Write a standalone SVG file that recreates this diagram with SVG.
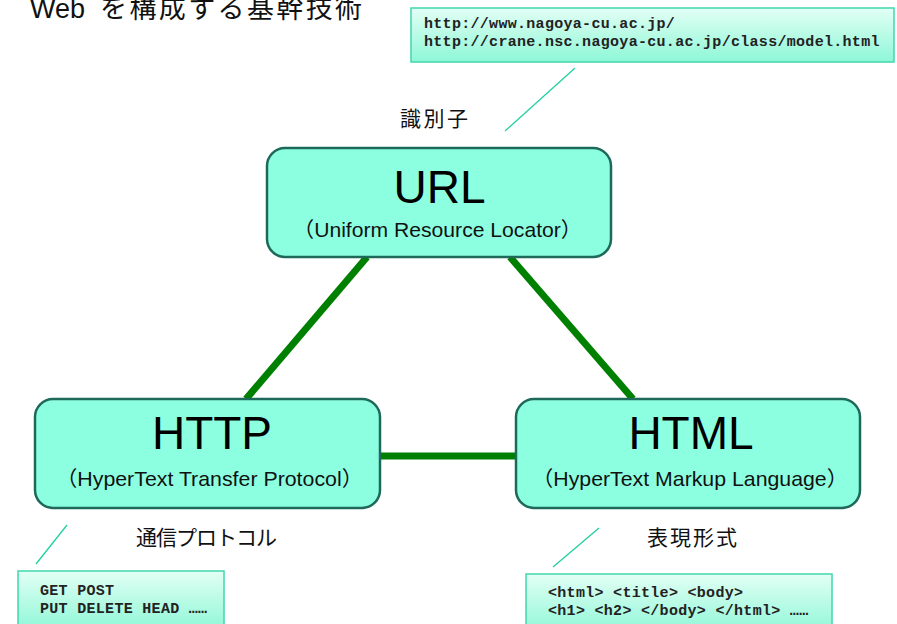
<svg xmlns="http://www.w3.org/2000/svg" width="897" height="624" viewBox="0 0 897 624">
<defs>
<linearGradient id="cg" x1="0" y1="0" x2="0" y2="1">
<stop offset="0" stop-color="#e2fff5"/>
<stop offset="1" stop-color="#8ef7d6"/>
</linearGradient>
<style>
.node{fill:#8cffe0;stroke:#1e6a5a;stroke-width:2.5}
.main{font-family:"Liberation Sans",Arial,sans-serif;font-size:46px;fill:#000;text-anchor:middle}
.sub{font-family:"Liberation Sans","Noto Sans CJK JP",sans-serif;font-size:21px;fill:#111}
.conn{stroke:#008000;stroke-width:7;fill:none}
.call{fill:url(#cg);stroke:#40d8ac;stroke-width:1.5}
.lead{stroke:#20d0a0;stroke-width:1.3;fill:none}
.mono{font-family:"Liberation Mono","Courier New",monospace;font-weight:bold;font-size:15px;fill:#222;letter-spacing:0.3px}
.lab{font-family:"Noto Sans CJK JP",sans-serif;font-size:21px;fill:#111}
</style>
</defs>
<rect width="897" height="624" fill="#fff"/>
<text y="18" font-family="'Liberation Sans','Noto Sans CJK JP',sans-serif" font-size="27" fill="#111"><tspan x="30">Web</tspan><tspan x="100" textLength="262" lengthAdjust="spacing" font-family="'Noto Sans CJK JP',sans-serif">を構成する基幹技術</tspan></text>

<g id="connectors">
<line class="conn" x1="367" y1="257" x2="246" y2="399"/>
<line class="conn" x1="510" y1="257" x2="633" y2="399"/>
<line class="conn" x1="380" y1="456" x2="516" y2="456"/>
<line class="lead" x1="575" y1="68" x2="505" y2="131"/>
<line class="lead" x1="67" y1="525" x2="36" y2="564"/>
<line class="lead" x1="599" y1="528" x2="553" y2="567"/>
</g>

<g id="url">
<rect class="node" x="267" y="148" width="344" height="109" rx="18"/>
<text class="main" x="439.5" y="203">URL</text>
<text class="sub" x="293" y="237" textLength="289" lengthAdjust="spacingAndGlyphs">（Uniform Resource Locator）</text>
</g>

<g id="http">
<rect class="node" x="35" y="399" width="345" height="109" rx="18"/>
<text class="main" x="212" y="449">HTTP</text>
<text class="sub" x="56" y="486" textLength="307" lengthAdjust="spacingAndGlyphs">（HyperText Transfer Protocol）</text>
</g>

<g id="html">
<rect class="node" x="516" y="399" width="344" height="109" rx="18"/>
<text class="main" x="691" y="449">HTML</text>
<text class="sub" x="532" y="486" textLength="316" lengthAdjust="spacingAndGlyphs">（HyperText Markup Language）</text>
</g>

<g id="url-callout">
<rect class="call" x="411" y="8" width="483" height="54"/>
<text class="mono" x="424" y="28">http://www.nagoya-cu.ac.jp/</text>
<text class="mono" x="424" y="46">http://crane.nsc.nagoya-cu.ac.jp/class/model.html</text>
</g>
<g id="url-label"><text class="lab" x="400" y="126" textLength="68" lengthAdjust="spacing">識別子</text></g>

<g id="http-callout">
<rect class="call" x="18" y="571" width="206" height="60"/>
<text class="mono" x="40" y="595">GET POST</text>
<text class="mono" x="40" y="613">PUT DELETE HEAD ……</text>
</g>
<g id="http-label"><text class="lab" x="136" y="545" textLength="141" lengthAdjust="spacing">通信プロトコル</text></g>

<g id="html-callout">
<rect class="call" x="526" y="574" width="306" height="60"/>
<text class="mono" x="548" y="597">&lt;html&gt; &lt;title&gt; &lt;body&gt;</text>
<text class="mono" x="548" y="615">&lt;h1&gt; &lt;h2&gt; &lt;/body&gt; &lt;/html&gt; ……</text>
</g>
<g id="html-label"><text class="lab" x="647" y="545" textLength="90" lengthAdjust="spacing">表現形式</text></g>
</svg>
